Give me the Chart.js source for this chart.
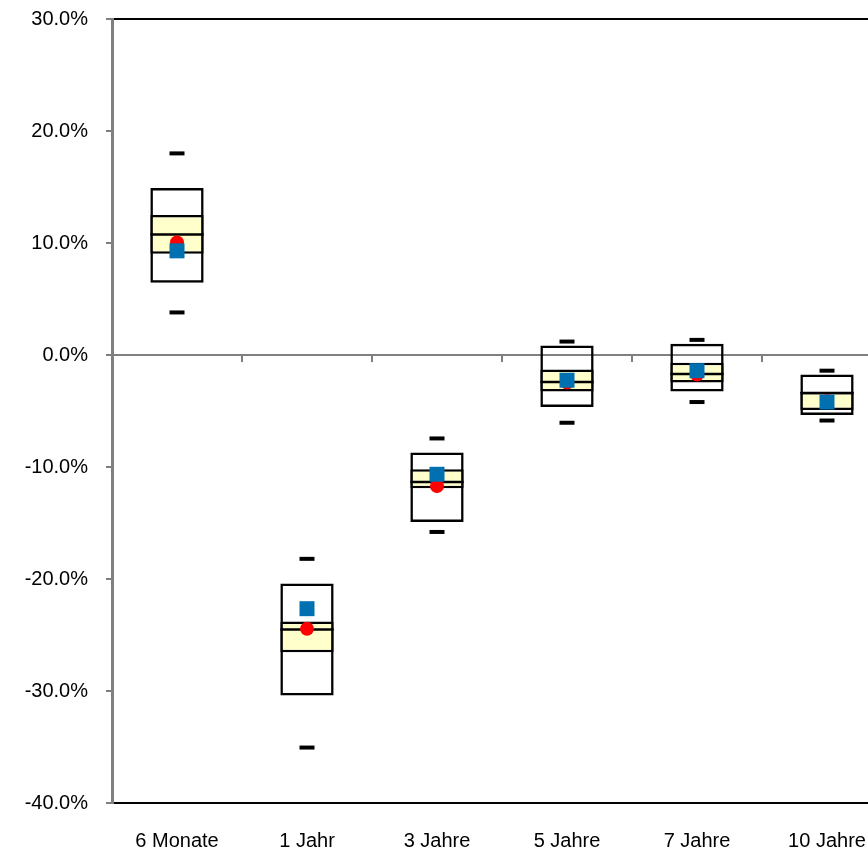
<!DOCTYPE html>
<html><head><meta charset="utf-8">
<script src="https://cdn.jsdelivr.net/npm/chart.js@4"></script>
<style>
html,body{margin:0;padding:0;overflow:hidden;background:#fff;width:868px;height:851px}
#wrap{width:900px;height:851px}
</style>
</head><body><div id="wrap"><canvas id="c" width="900" height="851" style="width:900px;height:851px"></canvas></div>
<script>
const categories = ['6 Monate', '1 Jahr', '3 Jahre', '5 Jahre', '7 Jahre', '10 Jahre'];
const whiskerHigh = [18.0, -18.2, -7.45, 1.2, 1.35, -1.4];
const boxHigh     = [14.9, -20.4, -8.7, 0.85, 1.0, -1.75];
const bandHigh    = [12.5, -23.8, -10.2, -1.3, -0.7, -3.3];
const medianVals  = [10.75, -24.5, -11.35, -2.4, -1.7, -3.4];
const bandLow     = [9.05, -26.55, -11.9, -3.25, -2.45, -4.9];
const boxLow      = [6.45, -30.4, -14.9, -4.65, -3.25, -5.35];
const whiskerLow  = [3.8, -35.05, -15.8, -6.05, -4.2, -5.85];
const redValues   = [10.05, -24.45, -11.7, -2.45, -1.75, -4.1];
const blueValues  = [9.3, -22.65, -10.65, -2.25, -1.4, -4.2];
const yTicks = { min: -40, max: 30, step: 10 };

const FONT = { family: "'Liberation Sans', Arial, sans-serif", size: 20 };
const BAR_PCT = 0.41;

function halfBar(chart) {
  const xs = chart.scales.x;
  return xs.width / categories.length * BAR_PCT / 2;
}

const zeroTicks = {
  id: 'zeroTicks',
  afterDatasetsDraw(chart) {
    const xs = chart.scales.x, ys = chart.scales.y, ctx = chart.ctx;
    const y0 = ys.getPixelForValue(0);
    const step = xs.getPixelForValue(1) - xs.getPixelForValue(0);
    ctx.save();
    ctx.strokeStyle = '#808080';
    ctx.lineWidth = 2;
    ctx.beginPath();
    for (let i = 0; i < categories.length; i++) {
      const x = Math.round(xs.getPixelForValue(i) + step / 2);
      ctx.moveTo(x, y0);
      ctx.lineTo(x, y0 + 7);
    }
    ctx.stroke();
    ctx.restore();
  }
};

new Chart(document.getElementById('c'), {
  type: 'bar',
  data: {
    labels: categories,
    datasets: [
      { type: 'line', data: blueValues, showLine: false, pointStyle: 'rect', pointRadius: 10.6, pointHoverRadius: 10.6,
        pointBackgroundColor: '#0070B0', pointBorderWidth: 0, order: 1, clip: false },
      { type: 'line', data: redValues, showLine: false, pointStyle: 'circle', pointRadius: 7, pointHoverRadius: 7,
        pointBackgroundColor: '#FF0000', pointBorderWidth: 0, order: 2, clip: false },
      { type: 'line', data: whiskerHigh, showLine: false, pointStyle: 'line', pointRadius: 7.5, pointHoverRadius: 7.5,
        pointBorderColor: '#000', pointBorderWidth: 4, order: 3, clip: false },
      { type: 'line', data: whiskerLow, showLine: false, pointStyle: 'line', pointRadius: 7.5, pointHoverRadius: 7.5,
        pointBorderColor: '#000', pointBorderWidth: 4, order: 4, clip: false },
      { type: 'line', data: medianVals, showLine: false, pointStyle: 'line',
        pointRadius: c => halfBar(c.chart), pointHoverRadius: c => halfBar(c.chart),
        pointBorderColor: '#000', pointBorderWidth: 2.5, order: 5, clip: false },
      { type: 'bar', data: bandLow.map((v, i) => [v, bandHigh[i]]), backgroundColor: '#FFFFCC',
        borderColor: '#000', borderWidth: 2.5, borderSkipped: false, grouped: false,
        barPercentage: BAR_PCT, categoryPercentage: 1, order: 9 },
      { type: 'bar', data: boxLow.map((v, i) => [v, boxHigh[i]]), backgroundColor: 'rgba(255,255,255,0)',
        borderColor: '#000', borderWidth: 2.5, borderSkipped: false, grouped: false,
        barPercentage: BAR_PCT, categoryPercentage: 1, order: 10 }
    ]
  },
  options: {
    responsive: false,
    devicePixelRatio: 1,
    animation: false,
    events: [],
    layout: { autoPadding: false, padding: { top: 19, right: 8, left: 0, bottom: 0 } },
    plugins: { legend: { display: false }, tooltip: { enabled: false } },
    scales: {
      x: {
        type: 'category', position: 'bottom', offset: true,
        grid: { display: false, drawTicks: false },
        border: { color: '#000', width: 2 },
        ticks: { font: FONT, color: '#000', padding: 26, maxRotation: 0, autoSkip: false },
        afterFit: s => { s.height = 48; }
      },
      x2: {
        type: 'category', position: 'top', offset: true, labels: categories,
        grid: { display: false, drawTicks: false },
        border: { color: '#000', width: 2 },
        ticks: { display: false },
        afterFit: s => { s.height = 0; }
      },
      y: {
        min: yTicks.min, max: yTicks.max,
        ticks: { stepSize: yTicks.step, font: FONT, color: '#000', padding: 18,
                 callback: v => v.toFixed(1) + '%' },
        grid: {
          color: c => (c.tick && c.tick.value === 0) ? '#808080' : 'rgba(0,0,0,0)',
          lineWidth: 2, tickColor: '#808080', tickLength: 6, tickWidth: 2
        },
        border: { color: '#808080', width: 3 },
        afterFit: s => { s.width = 112; s.paddingTop = 12; s.paddingBottom = 12; }
      }
    }
  },
  plugins: [zeroTicks]
});
</script></body></html>
